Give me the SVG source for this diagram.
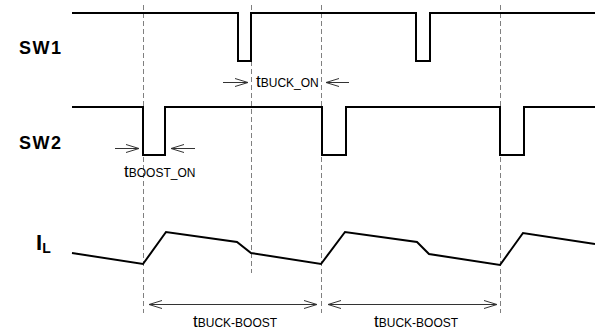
<svg xmlns="http://www.w3.org/2000/svg" width="595" height="331" viewBox="0 0 595 331">
<defs>
<style>
.wave{fill:none;stroke:#000;stroke-width:2;stroke-linejoin:miter}
.dash{fill:none;stroke:#808080;stroke-width:1;stroke-dasharray:5,3}
.dim{fill:none;stroke:#333;stroke-width:1}
.lbl{font-family:"Liberation Sans",Arial,sans-serif;font-weight:bold;fill:#000}
.t{font-family:"Liberation Sans",Arial,sans-serif;font-size:17px;fill:#000}
.sub{font-size:12px}
</style>
<marker id="ah" viewBox="0 0 13 10" refX="13" refY="5" markerWidth="13" markerHeight="10" markerUnits="userSpaceOnUse" orient="auto-start-reverse">
<path d="M0,1 L13,5 L0,9" fill="none" stroke="#333" stroke-width="1"/>
</marker>
</defs>
<rect width="595" height="331" fill="#fff"/>
<g id="guides">
<line class="dash" x1="143.5" y1="5" x2="143.5" y2="313"/>
<line class="dash" x1="251.5" y1="5" x2="251.5" y2="273"/>
<line class="dash" x1="321.5" y1="5" x2="321.5" y2="313"/>
<line class="dash" x1="500.5" y1="5" x2="500.5" y2="313"/>
</g>
<g id="sw1">
<text class="lbl" x="19" y="54" font-size="18" letter-spacing="1.5">SW1</text>
<path class="wave" d="M72,13 H238 V61 H251 V13 H416 V61 H430 V13 H595"/>
</g>
<g id="sw2">
<text class="lbl" x="19" y="149" font-size="18" letter-spacing="1.5">SW2</text>
<path class="wave" d="M72,107 H143 V155 H165 V107 H322 V155 H346 V107 H500 V155 H524 V107 H595"/>
</g>
<g id="il">
<text class="lbl" x="36" y="250" font-size="22">I<tspan font-size="14" dy="3">L</tspan></text>
<path class="wave" d="M72,253 L143,264 L166,232 L237,242 L251,253 L321,264 L345,232 L417,242 L429,254 L500,265 L523,233 L595,244"/>
</g>
<g id="connectors">
<line class="dim" x1="223" y1="82.5" x2="248" y2="82.5" marker-end="url(#ah)"/>
<line class="dim" x1="349" y1="82.5" x2="326" y2="82.5" marker-end="url(#ah)"/>
<line class="dim" x1="115" y1="148.5" x2="139" y2="148.5" marker-end="url(#ah)"/>
<line class="dim" x1="195" y1="148.5" x2="171" y2="148.5" marker-end="url(#ah)"/>
<line class="dim" x1="149" y1="304.5" x2="317" y2="304.5" marker-start="url(#ah)" marker-end="url(#ah)"/>
<line class="dim" x1="328" y1="304.5" x2="497" y2="304.5" marker-start="url(#ah)" marker-end="url(#ah)"/>
</g>
<g id="labels">
<text class="t" x="256" y="87">t<tspan class="sub">BUCK_ON</tspan></text>
<text class="t" x="124" y="177">t<tspan class="sub">BOOST_ON</tspan></text>
<text class="t" x="193" y="327">t<tspan class="sub">BUCK-BOOST</tspan></text>
<text class="t" x="374" y="327">t<tspan class="sub">BUCK-BOOST</tspan></text>
</g>
</svg>
